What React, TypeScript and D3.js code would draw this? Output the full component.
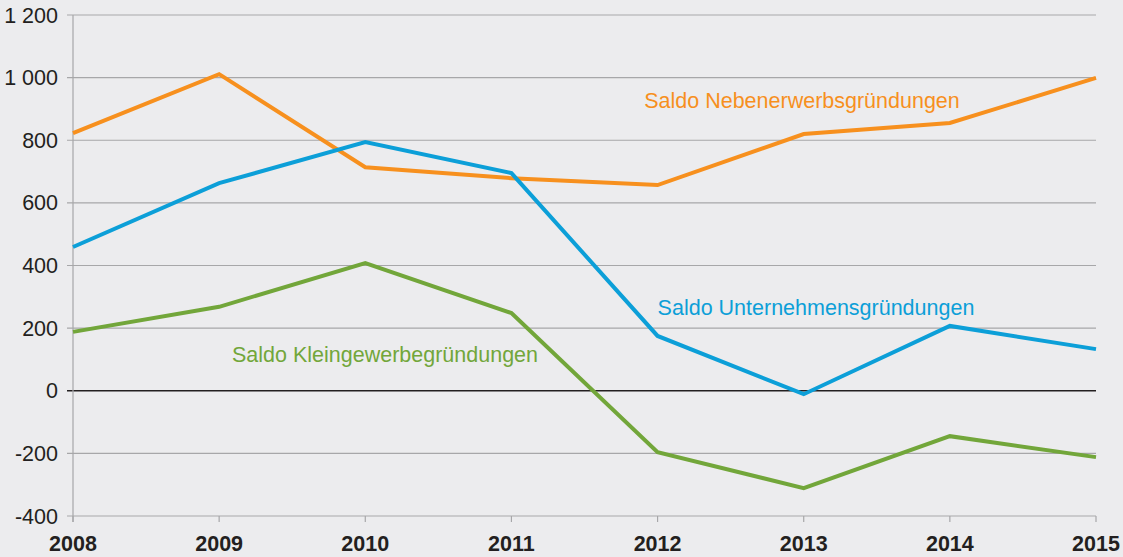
import * as d3 from "d3";

const years = [2008, 2009, 2010, 2011, 2012, 2013, 2014, 2015];
const nebenerwerb = [823, 1011, 714, 679, 657, 820, 855, 999];
const unternehmen = [459, 663, 794, 695, 175, -11, 207, 133];
const kleingewerbe = [188, 268, 408, 248, -196, -311, -145, -212];
const yTicks = [-400, -200, 0, 200, 400, 600, 800, 1000, 1200];

const W = 1123;
const H = 557;
const margin = { left: 73, right: 27, top: 15, bottom: 41 };

const series = [
  { name: "Saldo Nebenerwerbsgründungen", values: nebenerwerb, color: "#F7901E", lx: 802, ly: 108 },
  { name: "Saldo Unternehmensgründungen", values: unternehmen, color: "#0C9FD8", lx: 816, ly: 315 },
  { name: "Saldo Kleingewerbegründungen", values: kleingewerbe, color: "#72A63A", lx: 385, ly: 362 },
];

const fmt = (v: number) => {
  // thousands separated by a space, like the source
  const s = Math.abs(v).toString().replace(/\B(?=(\d{3})+(?!\d))/g, " ");
  return v < 0 ? "-" + s : s;
};

export default function App() {
  const x = d3
    .scaleLinear()
    .domain([2008, 2015])
    .range([margin.left, W - margin.right]);
  const y = d3
    .scaleLinear()
    .domain([-400, 1200])
    .range([H - margin.bottom, margin.top]);

  const line = d3
    .line<number>()
    .x((_, i) => x(years[i]))
    .y((d) => y(d));

  const font = "'Liberation Sans', Arial, Helvetica, sans-serif";
  const fs = 21.5;

  return (
    <svg
      width={W}
      height={H}
      style={{ position: "absolute", left: 0, top: 0, background: "#ECECEE" }}
      fontFamily={font}
    >
      {/* grid */}
      {yTicks.map((t) => (
        <g key={t}>
          <line
            x1={margin.left - 6}
            x2={W - margin.right}
            y1={y(t)}
            y2={y(t)}
            stroke={t === 0 ? "#231F20" : "#A7A7A9"}
            strokeWidth={t === 0 ? 1.3 : 1.2}
          />
          <text
            x={margin.left - 15}
            y={y(t)}
            dy="0.35em"
            textAnchor="end"
            fontSize={fs}
            fill="#231F20"
          >
            {fmt(t)}
          </text>
        </g>
      ))}
      {/* y axis */}
      <line
        x1={margin.left}
        x2={margin.left}
        y1={y(1200)}
        y2={y(-400) + 6}
        stroke="#A7A7A9"
        strokeWidth={1.2}
      />
      {/* x ticks */}
      {years.map((yr) => (
        <g key={yr}>
          <line
            x1={x(yr)}
            x2={x(yr)}
            y1={y(-400)}
            y2={y(-400) + 6}
            stroke="#A7A7A9"
            strokeWidth={1.2}
          />
          <text
            x={x(yr)}
            y={551}
            textAnchor="middle"
            fontSize={fs}
            fontWeight="bold"
            fill="#231F20"
          >
            {yr}
          </text>
        </g>
      ))}
      {/* lines */}
      {series.map((s) => (
        <path
          key={s.name}
          d={line(s.values) || ""}
          fill="none"
          stroke={s.color}
          strokeWidth={4}
          strokeLinejoin="miter"
        />
      ))}
      {series.map((s) => (
        <text
          key={s.name + "-label"}
          x={s.lx}
          y={s.ly}
          textAnchor="middle"
          fontSize={fs}
          fill={s.color}
        >
          {s.name}
        </text>
      ))}
    </svg>
  );
}
